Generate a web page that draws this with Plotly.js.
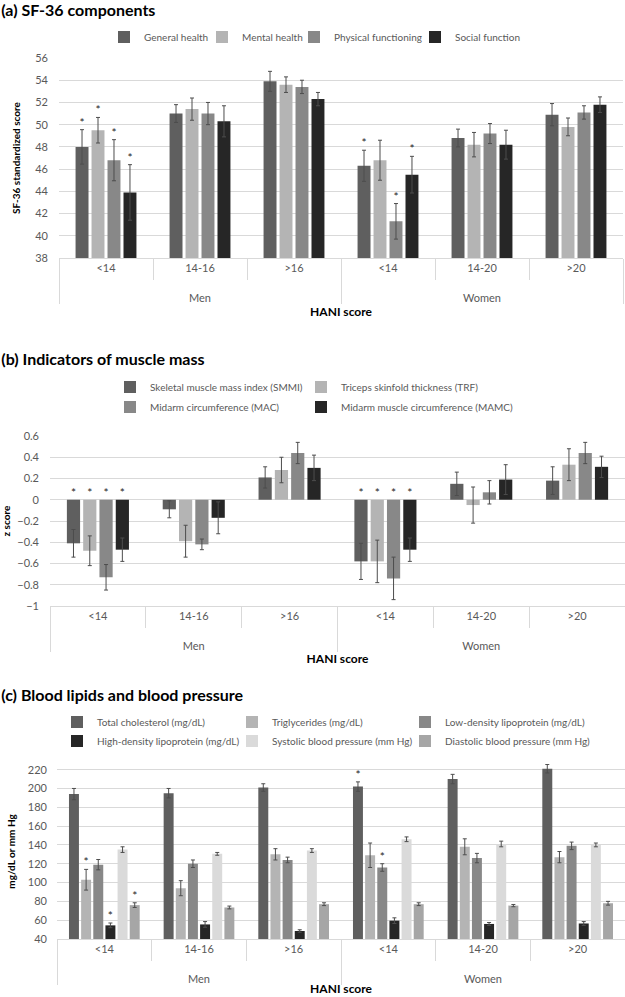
<!DOCTYPE html>
<html>
<head>
<meta charset="utf-8">
<script src="https://cdn.plot.ly/plotly-3.0.1.min.js"></script>
<style>
  html, body { margin: 0; padding: 0; background: #ffffff; }
  .panel { width: 625px; }
</style>
</head>
<body>
<div id="panelA" class="panel" style="height:340px"></div>
<div id="panelB" class="panel" style="height:337px"></div>
<div id="panelC" class="panel" style="height:320px"></div>
<script>
// ---------- shared categories ----------
const sexGroups = ['Men', 'Men', 'Men', 'Women', 'Women', 'Women'];
const haniBands = ['<14', '14-16', '>16', '<14', '14-20', '>20'];

// ---------- (a) SF-36 components ----------
const sfNames = ['General health', 'Mental health', 'Physical functioning', 'Social function'];
const sfGeneral = [48.0, 51.0, 53.9, 46.3, 48.8, 50.9];
const sfGeneralErr = [1.55, 0.8, 0.9, 1.4, 0.8, 1.0];
const sfMental = [49.5, 51.4, 53.6, 46.8, 48.2, 49.8];
const sfMentalErr = [1.15, 1.0, 0.7, 1.8, 1.1, 0.8];
const sfPhysical = [46.8, 51.0, 53.4, 41.3, 49.2, 51.1];
const sfPhysicalErr = [1.85, 1.0, 0.6, 1.6, 0.9, 0.6];
const sfSocial = [43.9, 50.3, 52.3, 45.5, 48.2, 51.8];
const sfSocialErr = [2.5, 1.4, 0.6, 1.65, 1.3, 0.7];
const sfGeneralSig = [1, 0, 0, 1, 0, 0];
const sfMentalSig = [1, 0, 0, 0, 0, 0];
const sfPhysicalSig = [1, 0, 0, 1, 0, 0];
const sfSocialSig = [1, 0, 0, 1, 0, 0];

// ---------- (b) Indicators of muscle mass (z score) ----------
const mmNames = ['Skeletal muscle mass index (SMMI)', 'Triceps skinfold thickness (TRF)',
                 'Midarm circumference (MAC)', 'Midarm muscle circumference (MAMC)'];
const mmSMMI = [-0.41, -0.09, 0.21, -0.58, 0.15, 0.18];
const mmSMMIErr = [0.13, 0.08, 0.10, 0.17, 0.11, 0.13];
const mmTRF = [-0.48, -0.39, 0.28, -0.58, -0.05, 0.33];
const mmTRFErr = [0.14, 0.15, 0.12, 0.20, 0.17, 0.15];
const mmMAC = [-0.73, -0.42, 0.44, -0.74, 0.07, 0.44];
const mmMACErr = [0.12, 0.05, 0.10, 0.20, 0.11, 0.10];
const mmMAMC = [-0.47, -0.17, 0.30, -0.47, 0.19, 0.31];
const mmMAMCErr = [0.11, 0.15, 0.12, 0.11, 0.14, 0.10];
const mmSMMISig = [1, 0, 0, 1, 0, 0];
const mmTRFSig = [1, 0, 0, 1, 0, 0];
const mmMACSig = [1, 0, 0, 1, 0, 0];
const mmMAMCSig = [1, 0, 0, 1, 0, 0];

// ---------- (c) Blood lipids and blood pressure ----------
const blNames = ['Total cholesterol (mg/dL)', 'Triglycerides (mg/dL)', 'Low-density lipoprotein (mg/dL)',
                 'High-density lipoprotein (mg/dL)', 'Systolic blood pressure (mm Hg)', 'Diastolic blood pressure (mm Hg)'];
const blTC = [194, 195, 201, 202, 210, 221];
const blTCErr = [6, 5, 4, 5, 5, 4.5];
const blTG = [103, 94, 130, 129, 138, 127];
const blTGErr = [11, 8, 6, 13, 8.5, 6];
const blLDL = [119, 120, 124, 116, 126, 139];
const blLDLErr = [5.5, 4, 3, 4, 5, 4];
const blHDL = [54.5, 55.5, 48.5, 59.5, 56, 56.5];
const blHDLErr = [2.5, 3, 1.3, 3, 1.5, 2];
const blSBP = [135, 130.5, 134, 146, 141, 140];
const blSBPErr = [3, 1.5, 2, 2.5, 3, 2];
const blDBP = [76, 73.5, 77, 77, 75.5, 78];
const blDBPErr = [2.5, 1.5, 1.5, 1.5, 1.2, 2];
const blTCSig = [0, 0, 0, 1, 0, 0];
const blTGSig = [1, 0, 0, 0, 0, 0];
const blLDLSig = [0, 0, 0, 1, 0, 0];
const blHDLSig = [1, 0, 0, 0, 0, 0];
const blSBPSig = [0, 0, 0, 0, 0, 0];
const blDBPSig = [1, 0, 0, 0, 0, 0];

// ---------- styles ----------
const FONT = 'Lato, "Liberation Sans", Arial, sans-serif';
const TICKCOL = '#595959';
const GRID = '#d9d9d9';
const cDark = '#5f5f5f', cLight = '#b4b4b4', cMid = '#888888', cBlack = '#262626',
      cPale = '#dadada', cLight2 = '#a6a6a6';

// outer (sex) labels are pushed one line lower, as in the reference layout
const sexLabels = sexGroups.map(s => '<br>' + s);

function legendId(i) { return i === 0 ? 'legend' : 'legend' + (i + 1); }

function buildTraces(names, values, errs, sigs, colors) {
  const bars = [], stars = [];
  names.forEach((nm, i) => {
    bars.push({
      type: 'bar', name: nm, legend: legendId(i),
      x: [sexLabels, haniBands], y: values[i],
      offsetgroup: 'g' + i,
      marker: { color: colors[i], line: { width: 0 } },
      error_y: { type: 'data', array: errs[i], visible: true, color: '#4d4d4d', thickness: 1, width: 2 },
      hoverinfo: 'skip'
    });
    const sx0 = [], sx1 = [], sy = [];
    sigs[i].forEach((s, k) => {
      if (s) {
        sx0.push(sexLabels[k]); sx1.push(haniBands[k]);
        const top = values[i][k] + errs[i][k];
        sy.push(values[i][k] >= 0 ? top : 0);
      }
    });
    stars.push({
      type: 'scatter', mode: 'text', showlegend: false,
      x: [sx0, sx1], y: sy, text: sy.map(() => '*'),
      textposition: 'top center',
      textfont: { family: FONT, size: 12, color: '#262626' },
      offsetgroup: 'g' + i, cliponaxis: false, hoverinfo: 'skip'
    });
  });
  return bars.concat(stars);
}

function baseLayout(o) {
  const lay = {
    width: 625, height: o.height,
    margin: o.margin,
    paper_bgcolor: '#ffffff', plot_bgcolor: '#ffffff',
    font: { family: FONT, size: 11, color: TICKCOL },
    title: {
      text: o.title, x: 0.002, xref: 'container', xanchor: 'left',
      y: 1 - o.titleY / o.height, yref: 'container', yanchor: 'middle',
      font: { family: FONT, size: 16, color: '#000000', weight: 'bold' }
    },
    barmode: 'group', bargap: o.bargap, bargroupgap: o.bargroupgap,
    scattermode: 'group', scattergap: o.bargap,
    showlegend: true,
    xaxis: {
      type: 'multicategory',
      showline: true, linecolor: GRID, linewidth: 1,
      showgrid: false, zeroline: false,
      tickson: 'boundaries', ticks: 'outside', ticklen: 21, tickcolor: GRID, tickwidth: 1,
      showdividers: true, dividercolor: GRID, dividerwidth: 1,
      tickfont: { family: FONT, size: 11, color: TICKCOL },
      title: { text: 'HANI score', font: { family: FONT, size: 12, color: '#000000', weight: 'bold' }, standoff: o.xtitleStandoff }
    },
    yaxis: {
      range: o.yrange, dtick: o.dtick, tick0: o.tick0,
      showgrid: true, gridcolor: GRID, gridwidth: 1,
      zeroline: false, showline: false, ticks: '',
      ticklabelstandoff: o.standoff,
      tickfont: { family: FONT, size: 11, color: TICKCOL },
      title: { text: o.ytitle, font: { family: FONT, size: 10, color: '#000000', weight: 'bold' }, standoff: o.ytitleStandoff }
    }
  };
  // one legend box per series, laid out like the reference legend grid
  o.legendPos.forEach((p, i) => {
    lay[legendId(i)] = {
      orientation: 'h', xref: 'container', yref: 'container',
      x: p[0] / 625, xanchor: 'left',
      y: 1 - p[1] / o.height, yanchor: 'middle',
      font: { family: FONT, size: 10, color: TICKCOL },
      itemwidth: 30, itemclick: false, itemdoubleclick: false,
      bgcolor: 'rgba(0,0,0,0)', borderwidth: 0
    };
  });
  return lay;
}

const cfg = { displayModeBar: false, staticPlot: true };

// Panel (a)
Plotly.newPlot('panelA',
  buildTraces(sfNames,
    [sfGeneral, sfMental, sfPhysical, sfSocial],
    [sfGeneralErr, sfMentalErr, sfPhysicalErr, sfSocialErr],
    [sfGeneralSig, sfMentalSig, sfPhysicalSig, sfSocialSig],
    [cDark, cLight, cMid, cBlack]),
  baseLayout({
    height: 340, margin: { l: 59, r: 2, t: 58, b: 82 },
    title: '(a) SF-36 components', titleY: 10,
    bargap: 0.32, bargroupgap: 0.19,
    legendPos: [[104, 37], [202, 37], [294, 37], [415, 37]],
    yrange: [38, 56], dtick: 2, tick0: 38, standoff: 10,
    ytitle: 'SF-36 standardized score', ytitleStandoff: 12, xtitleStandoff: 5
  }), cfg);

// Panel (b)
Plotly.newPlot('panelB',
  buildTraces(mmNames,
    [mmSMMI, mmTRF, mmMAC, mmMAMC],
    [mmSMMIErr, mmTRFErr, mmMACErr, mmMAMCErr],
    [mmSMMISig, mmTRFSig, mmMACSig, mmMAMCSig],
    [cDark, cLight, cMid, cBlack]),
  baseLayout({
    height: 337, margin: { l: 50, r: 0, t: 96, b: 71 },
    title: '(b) Indicators of muscle mass', titleY: 19,
    bargap: 0.32, bargroupgap: 0.19,
    legendPos: [[110, 47], [301, 47], [110, 67], [301, 67]],
    yrange: [-1, 0.6], dtick: 0.2, tick0: -1, standoff: 10,
    ytitle: 'z score', ytitleStandoff: 12, xtitleStandoff: 4
  }), cfg);

// Panel (c)
Plotly.newPlot('panelC',
  buildTraces(blNames,
    [blTC, blTG, blLDL, blHDL, blSBP, blDBP],
    [blTCErr, blTGErr, blLDLErr, blHDLErr, blSBPErr, blDBPErr],
    [blTCSig, blTGSig, blLDLSig, blHDLSig, blSBPSig, blDBPSig],
    [cDark, cLight, cMid, cBlack, cPale, cLight2]),
  baseLayout({
    height: 320, margin: { l: 57, r: 0, t: 87, b: 58 },
    title: '(c) Blood lipids and blood pressure', titleY: 18,
    bargap: 0.23, bargroupgap: 0.18,
    legendPos: [[57, 45], [232, 45], [405, 45], [57, 64], [232, 64], [405, 64]],
    yrange: [40, 226], dtick: 20, tick0: 40, standoff: 9,
    ytitle: 'mg/dL or mm Hg', ytitleStandoff: 10, xtitleStandoff: 1
  }), cfg);
</script>
</body>
</html>
